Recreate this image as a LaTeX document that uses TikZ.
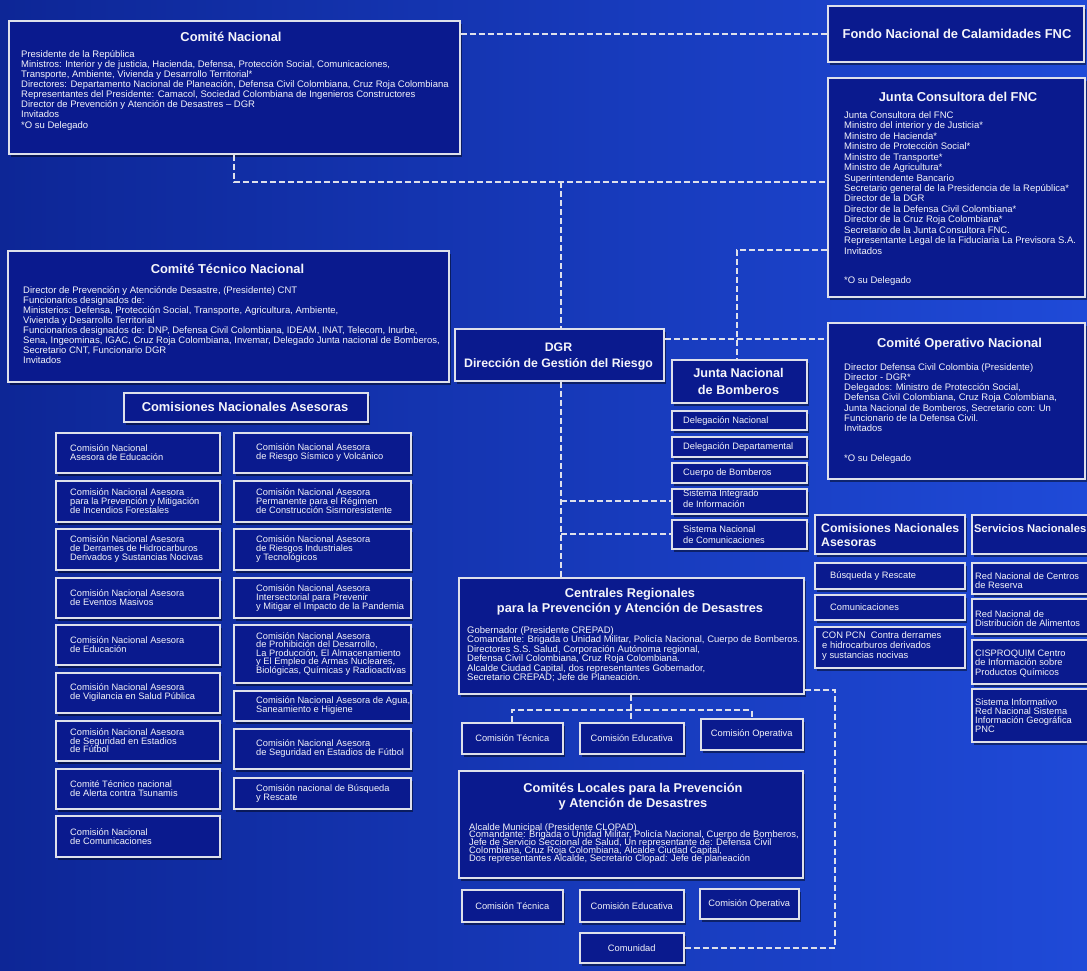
\documentclass[tikz,border=0pt]{standalone}
\usepackage{fontspec}
\setmainfont{Liberation Sans}
\usetikzlibrary{shadows}
\definecolor{bgL}{RGB}{13,38,150}
\definecolor{bgM}{RGB}{27,66,210}
\definecolor{bgR}{RGB}{31,74,216}
\definecolor{boxfill}{RGB}{10,26,142}
\definecolor{edgecol}{RGB}{222,224,235}
\definecolor{ink}{RGB}{245,245,250}
\newcommand\ml[1]{\vtop{\lineskiplimit=-50pt\halign{##\hfil\cr#1\crcr}}}
\newcommand\mc[1]{\vtop{\lineskiplimit=-50pt\halign{\hfil##\hfil\cr#1\crcr}}}
\newcommand\ftitle{\fontsize{12.9}{14.5}\selectfont\bfseries}
\newcommand\fbody{\fontsize{9.5}{10}\selectfont}
\newcommand\fsmall{\fontsize{9.3}{8.8}\selectfont}
\newcommand\bx[6]{\node[box, anchor=north west, minimum width=#4-#2, minimum height=#5-#3] (#1) at (#2,#3) {#6};}
\tikzset{
  box/.style={draw=edgecol, line width=1.5pt, fill=boxfill, inner sep=0pt, text=ink, font=\fsmall,
    drop shadow={shadow xshift=2pt, shadow yshift=-3pt, opacity=0.45, fill=black}},
  tx/.style={anchor=base west, inner sep=0pt, text=ink},
  tt/.style={anchor=base, inner sep=0pt, text=ink},
  tw/.style={anchor=west, inner sep=0pt, text=ink, font=\fsmall},
  dline/.style={draw=edgecol, line width=1.6pt, dash pattern=on 6pt off 3pt}
}
\begin{document}
\begin{tikzpicture}[x=1pt,y=-1pt]
\path[use as bounding box] (0,0) rectangle (1087,970);
\clip (0,0) rectangle (1087,970);
\shade[left color=bgL, middle color=bgM, right color=bgR] (0,0) rectangle (1087,970);

% connector coordinates
\coordinate (j1) at (561,182);
\coordinate (j2) at (737,250);
\coordinate (j3) at (737,339);
\coordinate (j4) at (631,710);
\coordinate (j5) at (835,690);

% boxes
\bx{cn}{8}{20}{459}{153}{}
\bx{fnc}{827}{5}{1083}{61}{}
\bx{jc}{827}{77}{1084}{296}{}
\bx{ctn}{7}{250}{448}{381}{}
\bx{dgr}{454}{328}{663}{380}{}
\bx{con}{827}{322}{1084}{478}{}
\bx{jnb}{671}{359}{806}{402}{}
\bx{dn}{671}{410}{806}{429}{}
\bx{dd}{671}{436}{806}{456}{}
\bx{cbo}{671}{462}{806}{482}{}
\bx{sii}{671}{488}{806}{513}{}
\bx{sn}{671}{519}{806}{548}{}
\bx{cna1}{123}{392}{367}{421}{}
\bx{l1}{55}{432}{219}{472}{}
\bx{l2}{55}{480}{219}{521}{}
\bx{l3}{55}{528}{219}{569}{}
\bx{l4}{55}{577}{219}{617}{}
\bx{l5}{55}{624}{219}{664}{}
\bx{l6}{55}{672}{219}{712}{}
\bx{l7}{55}{720}{219}{760}{}
\bx{l8}{55}{768}{219}{808}{}
\bx{l9}{55}{815}{219}{856}{}
\bx{r1}{233}{432}{410}{472}{}
\bx{r2}{233}{480}{410}{521}{}
\bx{r3}{233}{528}{410}{569}{}
\bx{r4}{233}{577}{410}{617}{}
\bx{r5}{233}{624}{410}{682}{}
\bx{r6}{233}{690}{410}{720}{}
\bx{r7}{233}{728}{410}{768}{}
\bx{r8}{233}{777}{410}{808}{}
\bx{cna2}{814}{514}{964}{553}{}
\bx{bys}{814}{562}{964}{588}{}
\bx{cmu}{814}{594}{964}{619}{}
\bx{cpc}{814}{626}{964}{667}{}
\bx{sna}{971}{514}{1100}{553}{}
\bx{rcr}{971}{562}{1100}{593}{}
\bx{rda}{971}{598}{1100}{633}{}
\bx{cis}{971}{639}{1100}{683}{}
\bx{sig}{971}{688}{1100}{741}{}
\bx{crp}{458}{577}{803}{693}{}
\bx{ct1}{461}{722}{562}{753}{Comisión Técnica}
\bx{ce1}{579}{722}{683}{753}{Comisión Educativa}
\bx{co1}{700}{718}{802}{749}{Comisión Operativa}
\bx{clp}{458}{770}{802}{877}{}
\bx{ct2}{461}{889}{562}{921}{Comisión Técnica}
\bx{ce2}{579}{889}{683}{921}{Comisión Educativa}
\bx{co2}{699}{888}{798}{918}{Comisión Operativa}
\bx{com}{579}{932}{683}{962}{Comunidad}

% connectors
\draw[dline] (fnc.west -| cn.east) -- (fnc.west);
\draw[dline] (cn.south) |- (j1) -- (j1 -| jc.west);
\draw[dline] (j1) -- (j1 |- dgr.north);
\draw[dline] (j2 -| jc.west) -- (j2) -- (j2 |- jnb.north);
\draw[dline] (j3 -| dgr.east) -- (j3 -| con.west);
\draw[dline] (j1 |- dgr.south) -- (j1 |- crp.north);
\draw[dline] (sii.west -| j1) -- (sii.west);
\draw[dline] (sn.west -| j1) -- (sn.west);
\draw[dline] (j4 |- crp.south) -- (j4 |- ce1.north);
\draw[dline] (ct1.north) |- (j4) -| (co1.north);
\draw[dline] (com.east) -- (com.east -| j5) -- (j5) -- (j5 -| crp.east);

% titles
\node[tt, font=\ftitle] (cnT) at (231,41.5) {Comité Nacional};
\node[tt, font=\ftitle] (fncT) at (957,38.5) {Fondo Nacional de Calamidades FNC};
\node[tt, font=\ftitle] (jcT) at (958,101.5) {Junta Consultora del FNC};
\node[tt, font=\ftitle] (ctnT) at (227.5,273.5) {Comité Técnico Nacional};
\node[tt, font={\fontsize{12.3}{16}\selectfont\bfseries}] (dgrT) at (558.5,351.5) {\mc{DGR\cr Dirección de Gestión del Riesgo}};
\node[tt, font=\ftitle] (conT) at (959.5,347.5) {Comité Operativo Nacional};
\node[tt, font={\fontsize{12.7}{17}\selectfont\bfseries}] (jnbT) at (738.5,377.5) {\mc{Junta Nacional\cr de Bomberos}};
\node[tt, font=\ftitle] (cna1T) at (245,411) {Comisiones Nacionales Asesoras};
\node[tt, font={\fontsize{12.8}{14.5}\selectfont\bfseries}] (crpT) at (630,597.5) {\mc{Centrales Regionales\cr para la Prevención y Atención de Desastres}};
\node[tt, font={\fontsize{12.8}{15}\selectfont\bfseries}] (clpT) at (633,792.5) {\mc{Comités Locales para la Prevención\cr y Atención de Desastres}};
\node[tx, font={\fontsize{12.3}{14}\selectfont\bfseries}] (cna2T) at (821,532.5) {\ml{Comisiones Nacionales\cr Asesoras}};
\node[tx, font={\fontsize{11.2}{13}\selectfont\bfseries}] (snaT) at (974,532) {Servicios Nacionales};

% bodies
\node[tx, font=\fbody] (cnB) at (21,57.3) {\ml{Presidente de la República\cr
Ministros: Interior y de justicia, Hacienda, Defensa, Protección Social, Comunicaciones,\cr
Transporte, Ambiente, Vivienda y Desarrollo Territorial*\cr
Directores: Departamento Nacional de Planeación, Defensa Civil Colombiana, Cruz Roja Colombiana\cr
Representantes del Presidente: Camacol, Sociedad Colombiana de Ingenieros Constructores\cr
Director de Prevención y Atención de Desastres – DGR\cr
Invitados\cr\noalign{\vskip 1pt}
*O  su Delegado}};
\node[tx, font={\fontsize{9.5}{10.46}\selectfont}] (jcB) at (844,118.3) {\ml{Junta Consultora del FNC\cr
Ministro del interior y de Justicia*\cr
Ministro de Hacienda*\cr
Ministro de Protección Social*\cr
Ministro de Transporte*\cr
Ministro de Agricultura*\cr
Superintendente Bancario\cr
Secretario general de la Presidencia de la República*\cr
Director de la DGR\cr
Director de la Defensa Civil Colombiana*\cr
Director de la Cruz Roja Colombiana*\cr
Secretario de la Junta Consultora FNC.\cr
Representante Legal de la Fiduciaria La Previsora S.A.\cr
Invitados\cr\noalign{\vskip 18.5pt}
*O su Delegado}};
\node[tx, font=\fbody] (ctnB) at (23,293.3) {\ml{Director de Prevención y Atenciónde Desastre, (Presidente) CNT\cr
Funcionarios designados de:\cr
Ministerios: Defensa, Protección Social, Transporte, Agricultura, Ambiente,\cr
Vivienda y Desarrollo Territorial\cr
Funcionarios designados de: DNP, Defensa Civil Colombiana, IDEAM, INAT, Telecom, Inurbe,\cr
Sena, Ingeominas, IGAC, Cruz Roja Colombiana, Invemar, Delegado Junta nacional de Bomberos,\cr
Secretario CNT, Funcionario DGR\cr
Invitados}};
\node[tx, font={\fontsize{9.5}{10.2}\selectfont}] (conB) at (844,370.3) {\ml{Director Defensa Civil Colombia (Presidente)\cr
Director - DGR*\cr
Delegados: Ministro de Protección Social,\cr
Defensa Civil Colombiana, Cruz Roja Colombiana,\cr
Junta Nacional de Bomberos, Secretario con: Un\cr
Funcionario de la Defensa Civil.\cr
Invitados\cr\noalign{\vskip 19.6pt}
*O su Delegado}};
\node[tx, font={\fontsize{9.5}{9.5}\selectfont}] (crpB) at (467,633.3) {\ml{Gobernador (Presidente CREPAD)\cr
Comandante: Brigada o Unidad Militar, Policía Nacional, Cuerpo de Bomberos.\cr
Directores S.S. Salud, Corporación Autónoma regional,\cr
Defensa Civil Colombiana, Cruz Roja Colombiana.\cr
Alcalde Ciudad Capital, dos representantes Gobernador,\cr
Secretario CREPAD; Jefe de Planeación.}};
\node[tx, font={\fontsize{9.4}{7.9}\selectfont}] (clpB) at (469,830) {\ml{Alcalde Municipal (Presidente CLOPAD)\cr
Comandante: Brigada o Unidad Militar, Policía Nacional, Cuerpo de Bomberos,\cr
Jefe de Servicio Seccional de Salud, Un representante de: Defensa Civil\cr
Colombiana, Cruz Roja Colombiana, Alcalde Ciudad Capital,\cr
Dos representantes Alcalde, Secretario Clopad: Jefe de planeación}};

% bomberos sub-boxes
\node[tx, font=\fsmall] (dnT) at (683,423) {Delegación Nacional};
\node[tx, font=\fsmall] (ddT) at (683,449.5) {Delegación Departamental};
\node[tx, font=\fsmall] (cboT) at (683,475.5) {Cuerpo de Bomberos};
\node[tx, font={\fontsize{9.3}{11.5}\selectfont}] (siiT) at (683,496) {\ml{Sistema Integrado\cr de Información}};
\node[tx, font={\fontsize{9.3}{11}\selectfont}] (snT) at (683,532.5) {\ml{Sistema Nacional\cr de Comunicaciones}};

% left column
\node[tw] (l1T) at ([xshift=15pt]l1.west) {\ml{Comisión Nacional\cr Asesora de Educación}};
\node[tw] (l2T) at ([xshift=15pt]l2.west) {\ml{Comisión Nacional Asesora\cr para la Prevención y Mitigación\cr de Incendios Forestales}};
\node[tw] (l3T) at ([xshift=15pt]l3.west) {\ml{Comisión Nacional Asesora\cr de Derrames de Hidrocarburos\cr Derivados y Sustancias Nocivas}};
\node[tw] (l4T) at ([xshift=15pt]l4.west) {\ml{Comisión Nacional Asesora\cr de Eventos Masivos}};
\node[tw] (l5T) at ([xshift=15pt]l5.west) {\ml{Comisión Nacional Asesora\cr de Educación}};
\node[tw] (l6T) at ([xshift=15pt]l6.west) {\ml{Comisión Nacional Asesora\cr de Vigilancia en Salud Pública}};
\node[tw] (l7T) at ([xshift=15pt]l7.west) {\ml{Comisión Nacional Asesora\cr de Seguridad en Estadios\cr de Fútbol}};
\node[tw] (l8T) at ([xshift=15pt]l8.west) {\ml{Comité Técnico nacional\cr de Alerta contra Tsunamis}};
\node[tw] (l9T) at ([xshift=15pt]l9.west) {\ml{Comisión Nacional\cr de Comunicaciones}};

% right column
\node[tw] (r1T) at ([xshift=23pt]r1.west) {\ml{Comisión Nacional Asesora\cr de Riesgo Sísmico y Volcánico}};
\node[tw] (r2T) at ([xshift=23pt]r2.west) {\ml{Comisión Nacional Asesora\cr Permanente para el Régimen\cr de Construcción Sismoresistente}};
\node[tw] (r3T) at ([xshift=23pt]r3.west) {\ml{Comisión Nacional Asesora\cr de Riesgos Industriales\cr y Tecnológicos}};
\node[tw] (r4T) at ([xshift=23pt]r4.west) {\ml{Comisión Nacional Asesora\cr Intersectorial para Prevenir\cr y Mitigar el Impacto de la Pandemia}};
\node[tw, font={\fontsize{9.3}{8.5}\selectfont}] (r5T) at ([xshift=23pt]r5.west) {\ml{Comisión Nacional Asesora\cr de Prohibición del Desarrollo,\cr La Producción, El Almacenamiento\cr y El Empleo de Armas Nucleares,\cr Biológicas, Químicas y Radioactivas}};
\node[tw] (r6T) at ([xshift=23pt]r6.west) {\ml{Comisión Nacional Asesora de Agua,\cr Saneamiento e Higiene}};
\node[tw] (r7T) at ([xshift=23pt]r7.west) {\ml{Comisión Nacional Asesora\cr de Seguridad en Estadios de Fútbol}};
\node[tw] (r8T) at ([xshift=23pt]r8.west) {\ml{Comisión nacional de Búsqueda\cr y Rescate}};

% right comisiones / servicios
\node[tx, font=\fsmall] (bysT) at (830,578.3) {Búsqueda y Rescate};
\node[tx, font=\fsmall] (cmuT) at (830,610) {Comunicaciones};
\node[tx, font={\fontsize{9.4}{10}\selectfont}] (cpcT) at (822,638.3) {\ml{CON PCN\ \ Contra derrames\cr e hidrocarburos derivados\cr y sustancias nocivas}};
\node[tx, font={\fontsize{9.3}{9}\selectfont}] (rcrT) at (975,579.3) {\ml{Red Nacional de Centros\cr de Reserva}};
\node[tx, font={\fontsize{9.3}{9}\selectfont}] (rdaT) at (975,617.3) {\ml{Red Nacional de\cr Distribución de Alimentos}};
\node[tx, font={\fontsize{9.3}{9.3}\selectfont}] (cisT) at (975,656.6) {\ml{CISPROQUIM Centro\cr de Información sobre\cr Productos Químicos}};
\node[tx, font={\fontsize{9.3}{9.3}\selectfont}] (sigT) at (975,705) {\ml{Sistema Informativo\cr Red Nacional Sistema\cr Información Geográfica\cr PNC}};
\end{tikzpicture}
\end{document}
